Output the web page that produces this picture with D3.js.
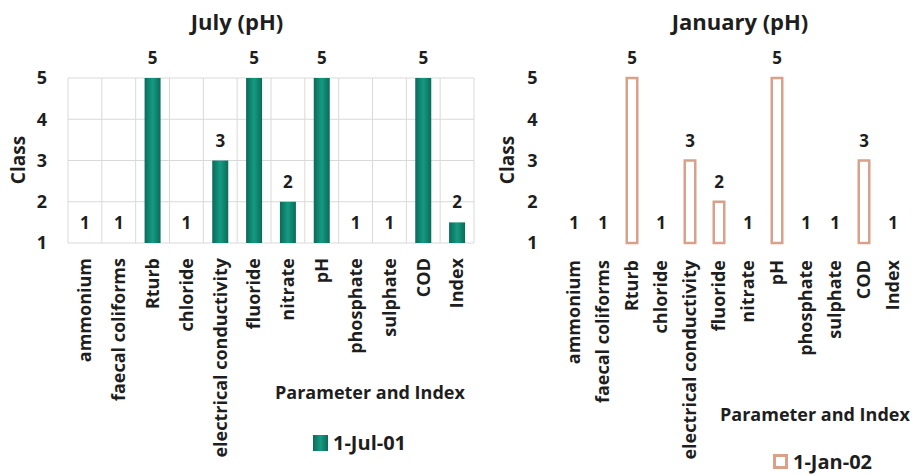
<!DOCTYPE html>
<html><head><meta charset="utf-8">
<script src="https://cdn.jsdelivr.net/npm/d3@7"></script>
<style>body{margin:0;background:#fff}svg{display:block}text{font-family:"Open Sans",sans-serif;font-weight:700;fill:#1e1e1e}</style>
</head><body>
<svg id="c" width="921" height="475"></svg>
<script>
const categories = ["ammonium","faecal coliforms","Rturb","chloride","electrical conductivity","fluoride","nitrate","pH","phosphate","sulphate","COD","Index"];
const julyValues = [1,1,5,1,3,5,2,5,1,1,5,1.5];
const janValues  = [1,1,5,1,3,2,1,5,1,1,3,1];
const yTicks = [1,2,3,4,5];
const julyTitle = "July (pH)", janTitle = "January (pH)";
const julyLegend = "1-Jul-01", janLegend = "1-Jan-02";

const svg = d3.select("#c");
const defs = svg.append("defs");
const g = defs.append("linearGradient").attr("id","teal").attr("x1","0").attr("x2","1").attr("y1","0").attr("y2","0");
g.append("stop").attr("offset","0").attr("stop-color","#0a6b59");
g.append("stop").attr("offset","0.5").attr("stop-color","#159a82");
g.append("stop").attr("offset","1").attr("stop-color","#0a6b59");

function panel(opts){
  const x = d3.scaleBand().domain(categories).range([opts.x0, opts.x1]).padding(0);
  const y = d3.scaleLinear().domain([1,5]).range([243,78]);
  const gp = svg.append("g");
  if (opts.grid){
    gp.append("g").selectAll("line.h").data(yTicks).join("line")
      .attr("x1",opts.x0).attr("x2",opts.x1).attr("y1",d=>y(d)).attr("y2",d=>y(d))
      .attr("stroke","#d9d9d9").attr("stroke-width",1);
    const bounds = categories.map(c=>x(c)).concat([opts.x1]);
    gp.append("g").selectAll("line.v").data(bounds).join("line")
      .attr("x1",d=>d).attr("x2",d=>d).attr("y1",y(5)).attr("y2",y(1))
      .attr("stroke","#d9d9d9").attr("stroke-width",1);
  }
  const ya = d3.axisLeft(y).tickValues(yTicks).tickFormat(d3.format("d")).tickSize(0).tickPadding(opts.tickPad);
  const yg = gp.append("g").attr("transform",`translate(${opts.x0},0)`).call(ya);
  yg.select(".domain").remove();
  yg.selectAll("text").style("font-size","18px").attr("fill","#1e1e1e").style("font-family","'Open Sans',sans-serif").style("font-weight","700");
  const bw = opts.barW;
  const data = categories.map((c,i)=>({c, v: opts.values[i]}));
  gp.append("g").selectAll("rect").data(data).join("rect")
    .attr("x",d=>x(d.c)+x.bandwidth()/2-bw/2)
    .attr("y",d=>y(d.v))
    .attr("width",bw)
    .attr("height",d=>y(1)-y(d.v))
    .attr("fill",opts.fill).attr("stroke",opts.stroke).attr("stroke-width",opts.strokeW)
    .attr("display",d=>d.v>1?null:"none");
  gp.append("g").selectAll("text").data(data).join("text")
    .attr("x",d=>x(d.c)+x.bandwidth()/2).attr("y",d=>y(d.v)-14)
    .attr("text-anchor","middle").style("font-size","17px")
    .text(d=>Math.round(d.v));
  gp.append("g").selectAll("text").data(categories).join("text")
    .attr("transform",c=>`translate(${x(c)+x.bandwidth()/2},${opts.labelTop}) rotate(-90)`)
    .attr("text-anchor","end").attr("dy","0.35em").style("font-size","18px")
    .text(c=>c);
  gp.append("text").attr("x",opts.titleX).attr("y",30).attr("text-anchor","middle").style("font-size","22px").text(opts.title);
  gp.append("text").attr("transform",`translate(${opts.yTitleX},160) rotate(-90)`).attr("text-anchor","middle").attr("dy","0.35em").style("font-size","19px").text("Class");
  gp.append("text").attr("x",opts.xTitleX).attr("y",opts.xTitleY).attr("dy","0.35em").style("font-size","18px").text("Parameter and Index");
  gp.append("rect").attr("x",opts.legX).attr("y",opts.legY-8).attr("width",opts.legFilled?15:12).attr("height",opts.legFilled?16:12)
    .attr("transform",opts.legFilled?null:"translate(1.5,1.5)")
    .attr("fill",opts.fill).attr("stroke",opts.stroke).attr("stroke-width",opts.legFilled?0:3);
  gp.append("text").attr("x",opts.legX+20).attr("y",opts.legY).attr("dy","0.35em").style("font-size","20px").text(opts.legend);
}

panel({x0:68,x1:474,values:julyValues,grid:true,barW:16,fill:"url(#teal)",stroke:"none",strokeW:0,
  tickPad:21,labelTop:258,title:julyTitle,titleX:237,yTitleX:18,xTitleX:275,xTitleY:393,
  legX:313,legY:443,legFilled:true,legend:julyLegend});
panel({x0:559.5,x1:907.5,values:janValues,grid:false,barW:10.5,fill:"#fff",stroke:"#d9a08a",strokeW:2.5,
  tickPad:22,labelTop:260,title:janTitle,titleX:740,yTitleX:507,xTitleX:720,xTitleY:415,
  legX:773,legY:462,legFilled:false,legend:janLegend});
</script>
</body></html>
